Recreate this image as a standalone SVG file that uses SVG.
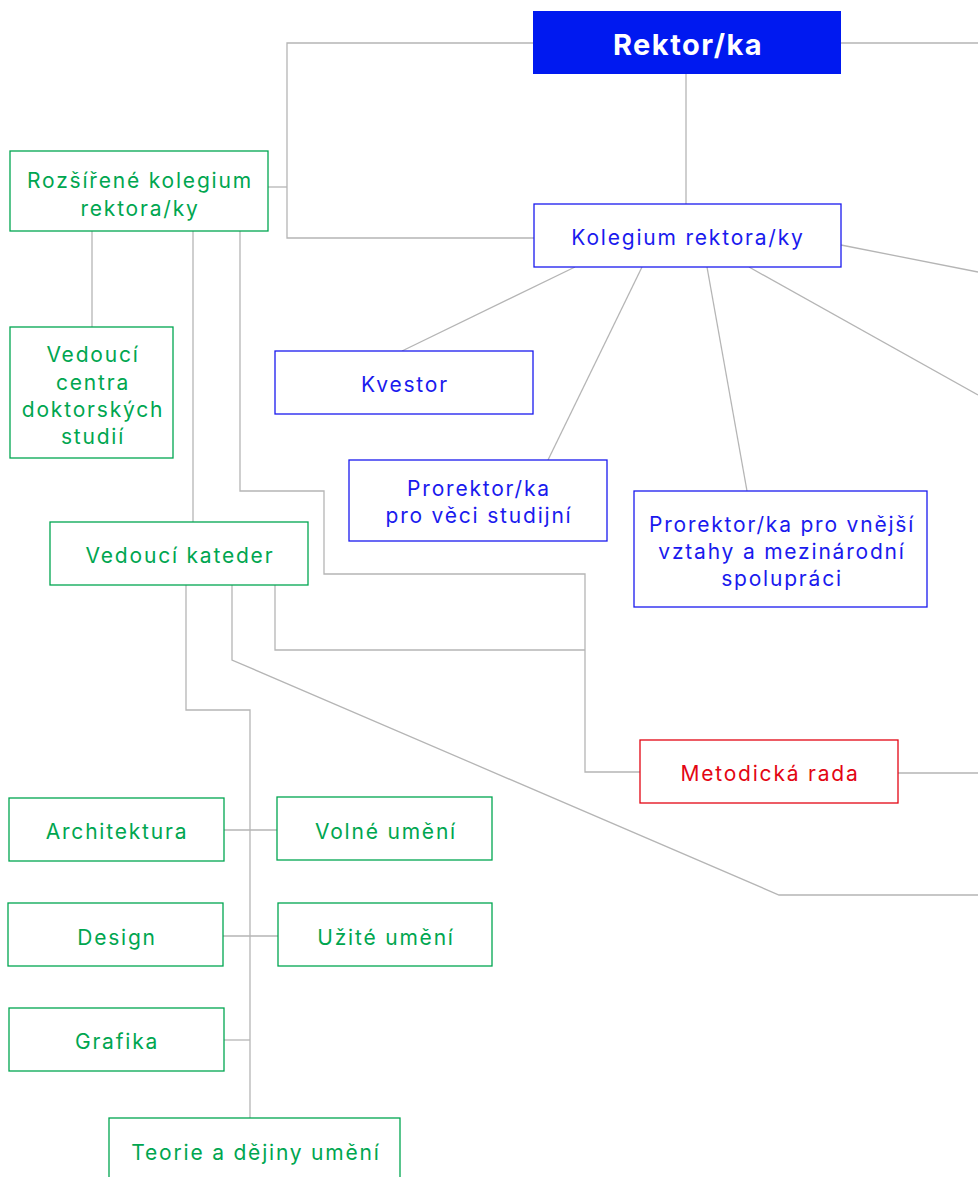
<svg xmlns="http://www.w3.org/2000/svg" width="978" height="1177" viewBox="0 0 978 1177">
<style>
.ln{fill:none;stroke:#b5b5b5;stroke-width:1.3}
.g rect{fill:#fff;stroke:#00a650;stroke-width:1.3}
.b rect{fill:#fff;stroke:#1a1aee;stroke-width:1.3}
.r rect{fill:#fff;stroke:#e30613;stroke-width:1.3}
text{font-family:Inter,"Noto Sans",sans-serif;font-size:21px;letter-spacing:1.8px;text-anchor:middle;dominant-baseline:central}
.g text{fill:#00a650}
.b text{fill:#1a1aee}
.r text{fill:#e30613}
.hd{fill:#fff;font-size:29px;font-weight:700;letter-spacing:1.5px}
</style>
<rect width="978" height="1177" fill="#fff"/>
<g id="connectors" class="ln">
<polyline points="533,43 287,43 287,238 534,238"/>
<line x1="268" y1="187" x2="287" y2="187"/>
<line x1="841" y1="43" x2="978" y2="43"/>
<line x1="686" y1="74" x2="686" y2="204"/>
<line x1="575" y1="267" x2="402" y2="351"/>
<line x1="642" y1="267" x2="548" y2="460"/>
<line x1="707" y1="267" x2="747" y2="491"/>
<line x1="749" y1="267" x2="978" y2="395"/>
<line x1="841" y1="245" x2="978" y2="272"/>
<line x1="92" y1="231" x2="92" y2="327"/>
<line x1="193" y1="231" x2="193" y2="522"/>
<polyline points="240,231 240,491 324,491 324,574 585,574 585,772 640,772"/>
<polyline points="275,585 275,650 585,650"/>
<polyline points="232,585 232,660 779,895 978,895"/>
<polyline points="186,585 186,710 250,710 250,1118"/>
<line x1="224" y1="830" x2="277" y2="830"/>
<line x1="223" y1="936" x2="278" y2="936"/>
<line x1="224" y1="1040" x2="250" y2="1040"/>
<line x1="898" y1="773" x2="978" y2="773"/>
</g>
<g id="rektor">
<rect x="533" y="11" width="308" height="63" fill="#0019f0"/>
<text class="hd" x="688" y="44">Rektor/ka</text>
</g>
<g id="kolegium" class="b">
<rect x="534" y="204" width="307" height="63"/>
<text x="688" y="237">Kolegium rektora/ky</text>
</g>
<g id="kvestor" class="b">
<rect x="275" y="351" width="258" height="63"/>
<text x="405" y="384">Kvestor</text>
</g>
<g id="prorektor-studijni" class="b">
<rect x="349" y="460" width="258" height="81"/>
<text x="479" y="488">Prorektor/ka</text>
<text x="479" y="515">pro věci studijní</text>
</g>
<g id="prorektor-vnejsi" class="b">
<rect x="634" y="491" width="293" height="116"/>
<text x="782" y="524">Prorektor/ka pro vnější</text>
<text x="782" y="551">vztahy a mezinárodní</text>
<text x="782" y="578">spolupráci</text>
</g>
<g id="rozsirene" class="g">
<rect x="10" y="151" width="258" height="80"/>
<text x="140" y="180">Rozšířené kolegium</text>
<text x="140" y="208">rektora/ky</text>
</g>
<g id="centrum" class="g">
<rect x="10" y="327" width="163" height="131"/>
<text x="93" y="354">Vedoucí</text>
<text x="93" y="382">centra</text>
<text x="93" y="409">doktorských</text>
<text x="93" y="436">studií</text>
</g>
<g id="kateder" class="g">
<rect x="50" y="522" width="258" height="63"/>
<text x="180" y="555">Vedoucí kateder</text>
</g>
<g id="metodicka" class="r">
<rect x="640" y="740" width="258" height="63"/>
<text x="770" y="773">Metodická rada</text>
</g>
<g id="architektura" class="g">
<rect x="9" y="798" width="215" height="63"/>
<text x="117" y="831">Architektura</text>
</g>
<g id="volne" class="g">
<rect x="277" y="797" width="215" height="63"/>
<text x="386" y="831">Volné umění</text>
</g>
<g id="design" class="g">
<rect x="8" y="903" width="215" height="63"/>
<text x="117" y="937">Design</text>
</g>
<g id="uzite" class="g">
<rect x="278" y="903" width="214" height="63"/>
<text x="386" y="937">Užité umění</text>
</g>
<g id="grafika" class="g">
<rect x="9" y="1008" width="215" height="63"/>
<text x="117" y="1041">Grafika</text>
</g>
<g id="teorie" class="g">
<rect x="109" y="1118" width="291" height="70"/>
<text x="256" y="1152">Teorie a dějiny umění</text>
</g>
</svg>
